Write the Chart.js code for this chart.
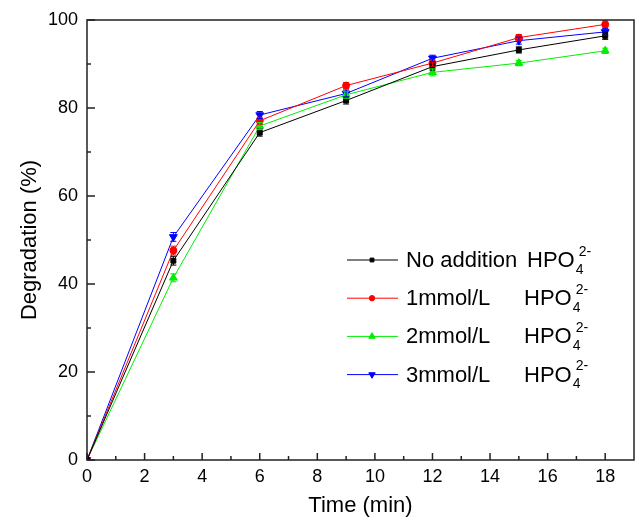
<!DOCTYPE html>
<html>
<head>
    <meta charset="utf-8">
    <title>Degradation vs time</title>
    <script src="https://cdn.jsdelivr.net/npm/chart.js@4.4.0/dist/chart.umd.min.js"></script>
    <style>
        body { margin: 0; background: #fff; }
        #wrap { width: 640px; height: 525px; }
    </style>
</head>
<body>
<div id="wrap"><canvas id="chart" width="640" height="525"></canvas></div>
<script>
    // sampling times (min)
    const times = [0, 3, 6, 9, 12, 15, 18];
    const xTicks = [0, 2, 4, 6, 8, 10, 12, 14, 16, 18];
    const yTicks = [0, 20, 40, 60, 80, 100];

    // degradation (%)
    const noAddition = [0, 45.3, 74.4, 81.7, 89.4, 93.2, 96.4];
    const mmol1 = [0, 47.6, 77.1, 85.1, 90.2, 96.0, 99.0];
    const mmol2 = [0, 41.4, 75.9, 83.0, 88.1, 90.2, 93.0];
    const mmol3 = [0, 50.7, 78.4, 83.3, 91.3, 95.3, 97.3];

    // error bars (+/-)
    const errNo = [0, 1.0, 0.8, 0.8, 0.8, 0.7, 0.8];
    const err1 = [0, 1.0, 0.8, 0.7, 0.7, 0.7, 0.8];
    const err2 = [0, 0.9, 0.8, 0.8, 0.8, 0.6, 0.6];
    const err3 = [0, 1.0, 0.8, 0.8, 0.7, 0.8, 0.8];

    const labels = ['No addition', '1mmol/L', '2mmol/L', '3mmol/L'];
    const colors = ['#000000', '#ff0000', '#00ee00', '#0000ff'];

    const FONT = '"Liberation Sans", Arial, sans-serif';

    function pts(arr) {
        return times.map((t, i) => ({ x: t, y: arr[i] }));
    }

    const series = [noAddition, mmol1, mmol2, mmol3];
    const errors = [errNo, err1, err2, err3];
    const styles = [
        { pointStyle: 'rect', radius: 3.5, rotation: 0 },
        { pointStyle: 'circle', radius: 3.5, rotation: 0 },
        { pointStyle: 'triangle', radius: 4.5, rotation: 0 },
        { pointStyle: 'triangle', radius: 4.5, rotation: 180 }
    ];

    const datasets = series.map((s, i) => ({
        label: labels[i],
        data: pts(s),
        borderColor: colors[i],
        backgroundColor: colors[i],
        borderWidth: 1,
        pointStyle: styles[i].pointStyle,
        pointRadius: styles[i].radius,
        pointRotation: styles[i].rotation,
        pointBorderWidth: 1,
        tension: 0,
        errors: errors[i]
    }));

    // error bars
    const errorBars = {
        id: 'errorBars',
        afterDatasetsDraw(chart) {
            const ctx = chart.ctx;
            const ys = chart.scales.y;
            ctx.save();
            chart.data.datasets.forEach((ds, di) => {
                const meta = chart.getDatasetMeta(di);
                ctx.strokeStyle = ds.borderColor;
                ctx.lineWidth = 1;
                meta.data.forEach((p, i) => {
                    const e = ds.errors[i];
                    if (!e) return;
                    const v = ds.data[i].y;
                    const y1 = ys.getPixelForValue(v + e);
                    const y2 = ys.getPixelForValue(v - e);
                    ctx.beginPath();
                    ctx.moveTo(p.x, y1); ctx.lineTo(p.x, y2);
                    ctx.moveTo(p.x - 3, y1); ctx.lineTo(p.x + 3, y1);
                    ctx.moveTo(p.x - 3, y2); ctx.lineTo(p.x + 3, y2);
                    ctx.stroke();
                });
            });
            ctx.restore();
        }
    };

    // frame and inward ticks
    const frame = {
        id: 'frame',
        afterDraw(chart) {
            const { ctx, chartArea: a, scales } = chart;
            ctx.save();
            ctx.strokeStyle = '#222';
            ctx.lineWidth = 1.5;
            ctx.strokeRect(a.left, a.top, a.right - a.left, a.bottom - a.top);
            ctx.beginPath();
            for (let v = 0; v <= 18; v++) {
                const x = scales.x.getPixelForValue(v);
                const len = v % 2 === 0 ? 7 : 4;
                ctx.moveTo(x, a.bottom); ctx.lineTo(x, a.bottom - len);
            }
            for (let v = 0; v <= 100; v += 10) {
                const y = scales.y.getPixelForValue(v);
                const len = v % 20 === 0 ? 8 : 4;
                ctx.moveTo(a.left, y); ctx.lineTo(a.left + len, y);
            }
            ctx.stroke();
            ctx.restore();
        }
    };

    // legend with HPO4 2- sub/superscripts
    const legendBox = {
        id: 'legendBox',
        afterDraw(chart) {
            const ctx = chart.ctx;
            ctx.save();
            ctx.textBaseline = 'middle';
            labels.forEach((lab, i) => {
                const y = 260 + i * 38.2;
                ctx.strokeStyle = colors[i];
                ctx.lineWidth = 1;
                ctx.beginPath();
                ctx.moveTo(347, y); ctx.lineTo(398, y);
                ctx.stroke();
                ctx.fillStyle = colors[i];
                Chart.helpers.drawPoint(ctx, {
                    pointStyle: styles[i].pointStyle,
                    rotation: styles[i].rotation,
                    borderWidth: 1,
                    radius: styles[i].radius - 0.8
                }, 372, y);
                ctx.fillStyle = '#000';
                ctx.font = '22px ' + FONT;
                ctx.textAlign = 'left';
                ctx.fillText(lab, 406, y + 1);
                const hx = i === 0 ? 527 : 524;
                ctx.fillText('HPO', hx, y + 1);
                const w = ctx.measureText('HPO').width;
                ctx.font = '14px ' + FONT;
                ctx.fillText('4', hx + w + 1, y + 10);
                ctx.fillText('2-', hx + w + 4, y - 8);
            });
            ctx.restore();
        }
    };

    new Chart(document.getElementById('chart').getContext('2d'), {
        type: 'line',
        data: { datasets: datasets },
        options: {
            responsive: false,
            animation: false,
            layout: { padding: { top: 20, right: 6, left: 0, bottom: 0 } },
            plugins: {
                legend: { display: false },
                tooltip: { enabled: false }
            },
            scales: {
                x: {
                    type: 'linear',
                    min: 0,
                    max: 19,
                    afterBuildTicks(scale) { scale.ticks = xTicks.map(v => ({ value: v })); },
                    afterFit(scale) { scale.height = 65; },
                    grid: { display: false, drawTicks: false },
                    border: { display: false },
                    ticks: { padding: 6, color: '#000', font: { family: FONT, size: 18 }, maxRotation: 0 },
                    title: { display: true, text: 'Time (min)', color: '#000', padding: { top: 0, bottom: 6 }, font: { family: FONT, size: 22 } }
                },
                y: {
                    min: 0,
                    max: 100,
                    afterBuildTicks(scale) { scale.ticks = yTicks.map(v => ({ value: v })); },
                    afterFit(scale) { scale.width = 87; },
                    grid: { display: false, drawTicks: false },
                    border: { display: false },
                    ticks: { padding: 9, color: '#000', font: { family: FONT, size: 18 } },
                    title: { display: true, text: 'Degradation (%)', color: '#000', padding: { top: 17, bottom: 0 }, font: { family: FONT, size: 22 } }
                }
            }
        },
        plugins: [errorBars, frame, legendBox]
    });
</script>
</body>
</html>
